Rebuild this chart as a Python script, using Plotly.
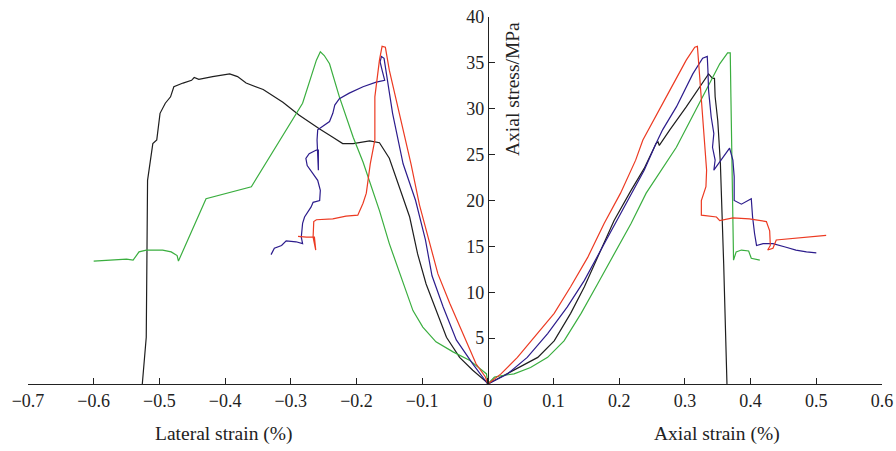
import plotly.graph_objects as go

# ---- data: (strain %, stress MPa) ----
black_lat_x = [0, -0.002, -0.023, -0.043, -0.063, -0.079, -0.094, -0.107, -0.119, -0.134, -0.150, -0.165, -0.180, -0.205, -0.221, -0.236, -0.256, -0.287, -0.312, -0.342, -0.368, -0.381, -0.393, -0.419, -0.440, -0.447, -0.451, -0.464, -0.478, -0.483, -0.491, -0.499, -0.504, -0.510, -0.518, -0.519, -0.520, -0.526]
black_lat_y = [0, 0.2, 1.5, 2.9, 5.1, 8.0, 10.9, 14.2, 18.2, 21.3, 24.6, 26.3, 26.5, 26.2, 26.2, 26.9, 27.8, 29.3, 30.7, 32.1, 32.8, 33.5, 33.8, 33.5, 33.2, 33.4, 33.1, 32.8, 32.4, 31.3, 30.6, 29.5, 26.6, 26.2, 22.2, 13.5, 5.1, 0]
black_ax_x = [0, 0.040, 0.076, 0.101, 0.126, 0.147, 0.167, 0.192, 0.218, 0.238, 0.256, 0.259, 0.261, 0.277, 0.302, 0.322, 0.336, 0.342, 0.345, 0.346, 0.350, 0.354, 0.357, 0.359, 0.364]
black_ax_y = [0, 1.5, 2.9, 4.7, 7.7, 10.6, 13.8, 17.8, 21.1, 23.5, 26.2, 26.4, 26.0, 27.7, 30.2, 32.4, 33.8, 33.3, 33.3, 31.3, 28.7, 24.0, 18.6, 13.1, 0]

red_lat_x = [0, -0.004, -0.018, -0.038, -0.058, -0.076, -0.090, -0.104, -0.117, -0.132, -0.150, -0.156, -0.161, -0.165, -0.168, -0.172, -0.172, -0.179, -0.185, -0.190, -0.198, -0.216, -0.236, -0.261, -0.265, -0.266, -0.262, -0.264, -0.276, -0.289]
red_lat_y = [0, 0.8, 2.2, 5.5, 8.8, 12.0, 15.8, 19.5, 24.0, 28.7, 34.2, 36.7, 36.8, 35.3, 33.8, 31.3, 26.6, 24.0, 20.8, 19.7, 18.4, 18.3, 18.0, 17.9, 17.7, 16.0, 14.6, 16.0, 16.0, 16.1]
red_ax_x = [0, 0.020, 0.045, 0.076, 0.101, 0.126, 0.152, 0.177, 0.202, 0.225, 0.236, 0.277, 0.302, 0.315, 0.319, 0.321, 0.325, 0.330, 0.333, 0.332, 0.325, 0.325, 0.348, 0.353, 0.373, 0.398, 0.424, 0.429, 0.430, 0.426, 0.434, 0.439, 0.454, 0.485, 0.515]
red_ax_y = [0, 1.1, 2.9, 5.5, 7.7, 10.6, 13.8, 17.5, 20.8, 24.4, 26.6, 32.0, 35.3, 36.7, 36.8, 34.9, 31.3, 26.9, 23.3, 21.5, 20.0, 18.4, 18.2, 17.8, 18.1, 18.0, 17.7, 16.7, 15.1, 14.6, 14.8, 15.7, 15.8, 16.0, 16.2]

blue_lat_x = [0, -0.023, -0.048, -0.068, -0.085, -0.095, -0.110, -0.129, -0.145, -0.155, -0.158, -0.162, -0.164, -0.161, -0.157, -0.170, -0.190, -0.211, -0.226, -0.233, -0.236, -0.241, -0.254, -0.259, -0.260, -0.258, -0.258, -0.261, -0.272, -0.277, -0.275, -0.266, -0.259, -0.255, -0.256, -0.266, -0.269, -0.279, -0.282, -0.284, -0.282, -0.292, -0.307, -0.314, -0.325, -0.330]
blue_lat_y = [0, 2.2, 4.8, 8.4, 11.8, 15.7, 20.0, 24.0, 29.5, 34.2, 35.5, 35.7, 35.1, 34.2, 33.1, 32.9, 32.4, 31.7, 31.1, 30.4, 29.5, 28.6, 28.0, 27.7, 26.6, 23.3, 25.5, 25.5, 25.1, 24.6, 23.8, 22.9, 22.2, 21.1, 20.0, 19.8, 19.3, 18.2, 17.5, 16.0, 15.3, 15.5, 15.6, 15.1, 14.8, 14.1]
blue_ax_x = [0, 0.030, 0.060, 0.091, 0.121, 0.147, 0.172, 0.202, 0.238, 0.256, 0.266, 0.287, 0.312, 0.327, 0.334, 0.335, 0.336, 0.340, 0.344, 0.342, 0.346, 0.344, 0.355, 0.368, 0.373, 0.375, 0.375, 0.386, 0.401, 0.403, 0.406, 0.409, 0.419, 0.434, 0.454, 0.469, 0.485, 0.500]
blue_ax_y = [0, 1.1, 2.9, 5.5, 8.4, 11.3, 14.6, 18.6, 23.3, 26.2, 27.7, 30.2, 33.8, 35.5, 35.7, 34.2, 32.0, 29.1, 27.3, 25.8, 24.4, 23.3, 24.4, 25.7, 24.4, 22.6, 20.0, 19.6, 20.2, 18.2, 16.4, 15.1, 15.3, 15.3, 14.9, 14.6, 14.4, 14.3]

green_lat_x = [0, -0.002, -0.028, -0.053, -0.079, -0.099, -0.114, -0.127, -0.139, -0.150, -0.165, -0.177, -0.190, -0.205, -0.226, -0.241, -0.249, -0.255, -0.261, -0.282, -0.360, -0.429, -0.471, -0.473, -0.482, -0.495, -0.520, -0.531, -0.540, -0.550, -0.571, -0.600]
green_lat_y = [0, 1.1, 2.6, 3.5, 4.6, 6.2, 8.0, 10.6, 13.1, 15.3, 18.9, 21.5, 24.2, 26.9, 31.3, 34.9, 35.8, 36.2, 35.3, 30.6, 21.5, 20.2, 13.4, 14.0, 14.4, 14.6, 14.6, 14.4, 13.5, 13.6, 13.5, 13.4]
green_ax_x = [0, 0.010, 0.020, 0.040, 0.065, 0.091, 0.116, 0.142, 0.167, 0.192, 0.218, 0.241, 0.287, 0.327, 0.353, 0.365, 0.369, 0.370, 0.372, 0.373, 0.374, 0.378, 0.386, 0.397, 0.401, 0.414]
green_ax_y = [0, 0.75, 0.9, 1.1, 1.8, 2.9, 4.7, 7.7, 10.9, 14.2, 17.5, 20.8, 25.8, 31.3, 34.9, 36.1, 36.1, 31.3, 22.2, 16.7, 13.5, 14.4, 14.6, 14.5, 13.7, 13.5]

x_ticks = [-0.7, -0.6, -0.5, -0.4, -0.3, -0.2, -0.1, 0, 0.1, 0.2, 0.3, 0.4, 0.5, 0.6]
x_ticktext = ["\u22120.7", "\u22120.6", "\u22120.5", "\u22120.4", "\u22120.3", "\u22120.2", "\u22120.1", "0", "0.1", "0.2", "0.3", "0.4", "0.5", "0.6"]
y_ticks = [5, 10, 15, 20, 25, 30, 35, 40]

colors = {"black": "#1e1e1e", "green": "#3aae3f", "blue": "#2c1c8c", "red": "#ec3a22"}
series = [
    ("black", black_lat_x, black_lat_y, black_ax_x, black_ax_y),
    ("green", green_lat_x, green_lat_y, green_ax_x, green_ax_y),
    ("blue", blue_lat_x, blue_lat_y, blue_ax_x, blue_ax_y),
    ("red", red_lat_x, red_lat_y, red_ax_x, red_ax_y),
]

FONT = "Liberation Serif"
fig = go.Figure()
for name, lx, ly, ax, ay in series:
    for xs, ys in ((lx, ly), (ax, ay)):
        fig.add_trace(go.Scatter(x=xs, y=ys, mode="lines", showlegend=False,
                                 line=dict(color=colors[name], width=1.2), hoverinfo="skip"))

fig.update_layout(
    width=896, height=451,
    margin=dict(l=28, r=14, t=17, b=67),
    paper_bgcolor="white", plot_bgcolor="white",
    font=dict(family=FONT, size=18, color="#222222"),
    xaxis=dict(range=[-0.7, 0.6], tickvals=x_ticks, ticktext=x_ticktext, automargin=False,
               showgrid=False, zeroline=False, showline=True, linecolor="#222222", linewidth=1.2,
               ticks="inside", ticklen=6, tickwidth=1.2, tickcolor="#222222",
               tickfont=dict(family=FONT, size=18), domain=[0, 1]),
    yaxis=dict(range=[0, 40], tickvals=y_ticks, anchor="free", position=0.7 / 1.3, automargin=False,
               showgrid=False, zeroline=False, showline=True, linecolor="#222222", linewidth=1.2,
               ticks="inside", ticklen=6, tickwidth=1.2, tickcolor="#222222",
               tickfont=dict(family=FONT, size=18)),
    annotations=[
        dict(text="Axial stress/MPa", xref="x", yref="y", x=0.0376, y=32.1,
             textangle=-90, showarrow=False, font=dict(family=FONT, size=19.5)),
        dict(text="Lateral strain (%)", xref="x", yref="paper", x=-0.401, y=-0.1375,
             yanchor="middle", showarrow=False, font=dict(family=FONT, size=19.5)),
        dict(text="Axial strain (%)", xref="x", yref="paper", x=0.349, y=-0.1375,
             yanchor="middle", showarrow=False, font=dict(family=FONT, size=19.5)),
    ],
)

fig.write_html("out.html")
